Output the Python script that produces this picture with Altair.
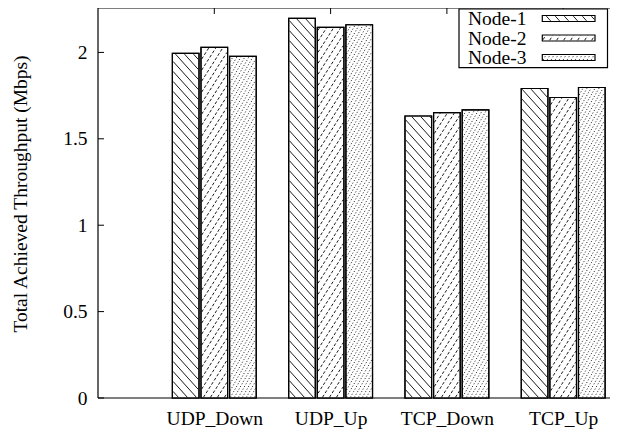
import math
import json
import altair as alt
import pandas as pd

# ---------------- data ----------------
categories = ["UDP_Down", "UDP_Up", "TCP_Down", "TCP_Up"]
nodes = ["Node-1", "Node-2", "Node-3"]
node1 = [1.994, 2.197, 1.632, 1.791]
node2 = [2.029, 2.145, 1.652, 1.739]
node3 = [1.977, 2.160, 1.667, 1.797]
y_ticks = [0, 0.5, 1, 1.5, 2]
y_title = "Total Achieved Throughput (Mbps)"

# ---------------- layout / style ----------------
FONT = "Liberation Serif"
FS = 19.5
W, H = 512, 390
KX = 116.3                      # px per category step
X_DOM = [-1.0, -1.0 + W / KX]
Y_DOM = [0.0, 2.257]
KY = H / (Y_DOM[1] - Y_DOM[0])
PITCH = 0.246
BW = 0.229

patterns = {
    "Node-1": dict(d=-1, ph=9.0, pv=10.0, dash=None, sw=0.9),
    "Node-2": dict(d=1, ph=7.0, pv=11.0, dash=[3, 2], sw=0.9),
    "Node-3": dict(d=1, ph=4.0, pv=7.0, dash=[1, 2], sw=0.9),
}


def hatch(x0, x1, y0, y1, d, ph, pv):
    """Clip a family of parallel lines to a rectangle (plot pixels, y upward)."""
    segs = []
    if d < 0:  # "\" : x/ph + y/pv = k
        kmin = math.floor(x0 / ph + y0 / pv)
        kmax = math.ceil(x1 / ph + y1 / pv)
        for k in range(kmin, kmax + 1):
            xa = max(x0, ph * (k - y1 / pv))
            xb = min(x1, ph * (k - y0 / pv))
            if xb - xa > 0.3:
                segs.append((xa, pv * (k - xa / ph), xb, pv * (k - xb / ph)))
    else:  # "/" : x/ph - y/pv = k
        kmin = math.floor(x0 / ph - y1 / pv)
        kmax = math.ceil(x1 / ph - y0 / pv)
        for k in range(kmin, kmax + 1):
            xa = max(x0, ph * (k + y0 / pv))
            xb = min(x1, ph * (k + y1 / pv))
            if xb - xa > 0.3:
                segs.append((xa, pv * (xa / ph - k), xb, pv * (xb / ph - k)))
    return segs


def to_dx(px):
    return X_DOM[0] + px / KX


def to_dy(py):
    return Y_DOM[0] + py / KY


# bar table
series = {"Node-1": node1, "Node-2": node2, "Node-3": node3}
rows = []
for i, cat in enumerate(categories):
    for j, nd in enumerate(nodes):
        c = i + (j - 1) * PITCH
        rows.append(dict(cat=cat, node=nd, value=series[nd][i],
                         x0=c - BW / 2, x1=c + BW / 2, base=0.0))
bars = pd.DataFrame(rows)

# hatch tables for bars
hatch_rows = {nd: [] for nd in nodes}
INS = 0.7
for r in rows:
    p = patterns[r["node"]]
    X0 = (r["x0"] - X_DOM[0]) * KX + INS
    X1 = (r["x1"] - X_DOM[0]) * KX - INS
    Y0 = 0 + INS
    Y1 = r["value"] * KY - INS
    for (xa, ya, xb, yb) in hatch(X0, X1, Y0, Y1, p["d"], p["ph"], p["pv"]):
        hatch_rows[r["node"]].append(dict(hx=to_dx(xa), hy=to_dy(ya),
                                          hx2=to_dx(xb), hy2=to_dy(yb)))

# legend geometry (plot pixels from plot top-left, screen y downward)
LEG_BOX = dict(x=361, x2=509.5, y=1, y2=59.7)
LEG_TEXT_X = 370
LEG_BASE = [17, 36.5, 56]
SAMPLE_X = (444.3, 497)
samp_rows = []
leg_hatch = {nd: [] for nd in nodes}
for k, nd in enumerate(nodes):
    sy0 = LEG_BASE[k] - 9.5
    sy1 = LEG_BASE[k] - 3.5
    up0, up1 = H - sy1, H - sy0
    samp_rows.append(dict(node=nd, hx=to_dx(SAMPLE_X[0]), hx2=to_dx(SAMPLE_X[1]),
                          hy=to_dy(up0), hy2=to_dy(up1)))
    p = patterns[nd]
    for (xa, ya, xb, yb) in hatch(SAMPLE_X[0] + INS, SAMPLE_X[1] - INS, up0 + INS, up1 - INS,
                                  p["d"], p["ph"], p["pv"]):
        leg_hatch[nd].append(dict(hx=to_dx(xa), hy=to_dy(ya), hx2=to_dx(xb), hy2=to_dy(yb)))
samples = pd.DataFrame(samp_rows)

label_expr = json.dumps(categories) + "[datum.value]"

xscale = alt.Scale(domain=X_DOM, nice=False, zero=False)
yscale = alt.Scale(domain=Y_DOM, nice=False, zero=False)

xaxis = alt.Axis(values=list(range(len(categories))), labelExpr=label_expr,
                 title=None, grid=False, ticks=False, tickSize=0, domain=False,
                 labelFont=FONT, labelFontSize=FS, labelColor="black",
                 labelPadding=11.6, labelAngle=0, labelFlush=False, labelOverlap=False)
yaxis = alt.Axis(values=y_ticks, format="~g", title=y_title, grid=False,
                 ticks=False, tickSize=0, domain=False,
                 labelFont=FONT, labelFontSize=FS, labelColor="black",
                 labelPadding=11, labelFlush=False, labelOverlap=False,
                 titleFont=FONT, titleFontSize=FS, titleFontWeight="normal",
                 titleColor="black", titleAngle=270, titleX=-72, titleY=185.5,
                 titleAlign="center", titleBaseline="alphabetic")


def X(field):
    return alt.X(field, type="quantitative", scale=xscale, axis=xaxis)


def Y(field):
    return alt.Y(field, type="quantitative", scale=yscale, axis=yaxis)


one = pd.DataFrame({"k": [0]})

layers = []
# frame (left, top, bottom)
layers.append(alt.Chart(one).mark_rule(color="black", strokeWidth=1.2).encode(
    x=alt.value(0), y=alt.value(0), y2=alt.value(H)))
layers.append(alt.Chart(one).mark_rule(color="black", strokeWidth=1.2).encode(
    x=alt.value(0), x2=alt.value(W), y=alt.value(0)))
layers.append(alt.Chart(one).mark_rule(color="black", strokeWidth=1.2).encode(
    x=alt.value(0), x2=alt.value(W), y=alt.value(H)))

# inward ticks
ytick_df = pd.DataFrame({"v": y_ticks})
layers.append(alt.Chart(ytick_df).mark_rule(color="black", strokeWidth=1).encode(
    y=Y("v"), x=alt.value(0), x2=alt.value(6)))
xtick_df = pd.DataFrame({"g": list(range(len(categories)))})
layers.append(alt.Chart(xtick_df).mark_rule(color="black", strokeWidth=1).encode(
    x=X("g"), y=alt.value(0), y2=alt.value(6)))

# bars
layers.append(alt.Chart(bars).mark_rect(fill="white", stroke="black", strokeWidth=1.2).encode(
    x=X("x0"), x2="x1", y=Y("value"), y2="base"))


def hatch_layer(df_rows, p):
    kw = dict(color="black", strokeWidth=p["sw"])
    if p["dash"]:
        kw["strokeDash"] = p["dash"]
    return alt.Chart(pd.DataFrame(df_rows)).mark_rule(**kw).encode(
        x=X("hx"), x2="hx2", y=Y("hy"), y2="hy2")


for nd in nodes:
    layers.append(hatch_layer(hatch_rows[nd], patterns[nd]))

layers.append(alt.Chart(bars).mark_rect(fillOpacity=0, stroke="black", strokeWidth=1.2).encode(
    x=X("x0"), x2="x1", y=Y("value"), y2="base"))

# legend
leg_df = pd.DataFrame({"node": nodes})
layers.append(alt.Chart(one).mark_rect(fill="white", stroke="black", strokeWidth=1.2).encode(
    x=alt.value(LEG_BOX["x"]), x2=alt.value(LEG_BOX["x2"]),
    y=alt.value(LEG_BOX["y"]), y2=alt.value(LEG_BOX["y2"])))
for k, nd in enumerate(nodes):
    layers.append(alt.Chart(leg_df.iloc[[k]]).mark_text(
        font=FONT, fontSize=FS, color="black", align="left", baseline="alphabetic").encode(
        text="node:N", x=alt.value(LEG_TEXT_X), y=alt.value(LEG_BASE[k])))
layers.append(alt.Chart(samples).mark_rect(fill="white", stroke="black", strokeWidth=1.2).encode(
    x=X("hx"), x2="hx2", y=Y("hy"), y2="hy2"))
for nd in nodes:
    layers.append(hatch_layer(leg_hatch[nd], patterns[nd]))

chart = alt.layer(*layers).properties(
    width=W, height=H,
    autosize=alt.AutoSizeParams(type="none"),
    padding={"left": 90, "top": 0, "right": 0, "bottom": 32},
    background="white",
).configure_view(strokeWidth=0)

chart.save("out.html", embed_options={"renderer": "svg", "actions": False})
